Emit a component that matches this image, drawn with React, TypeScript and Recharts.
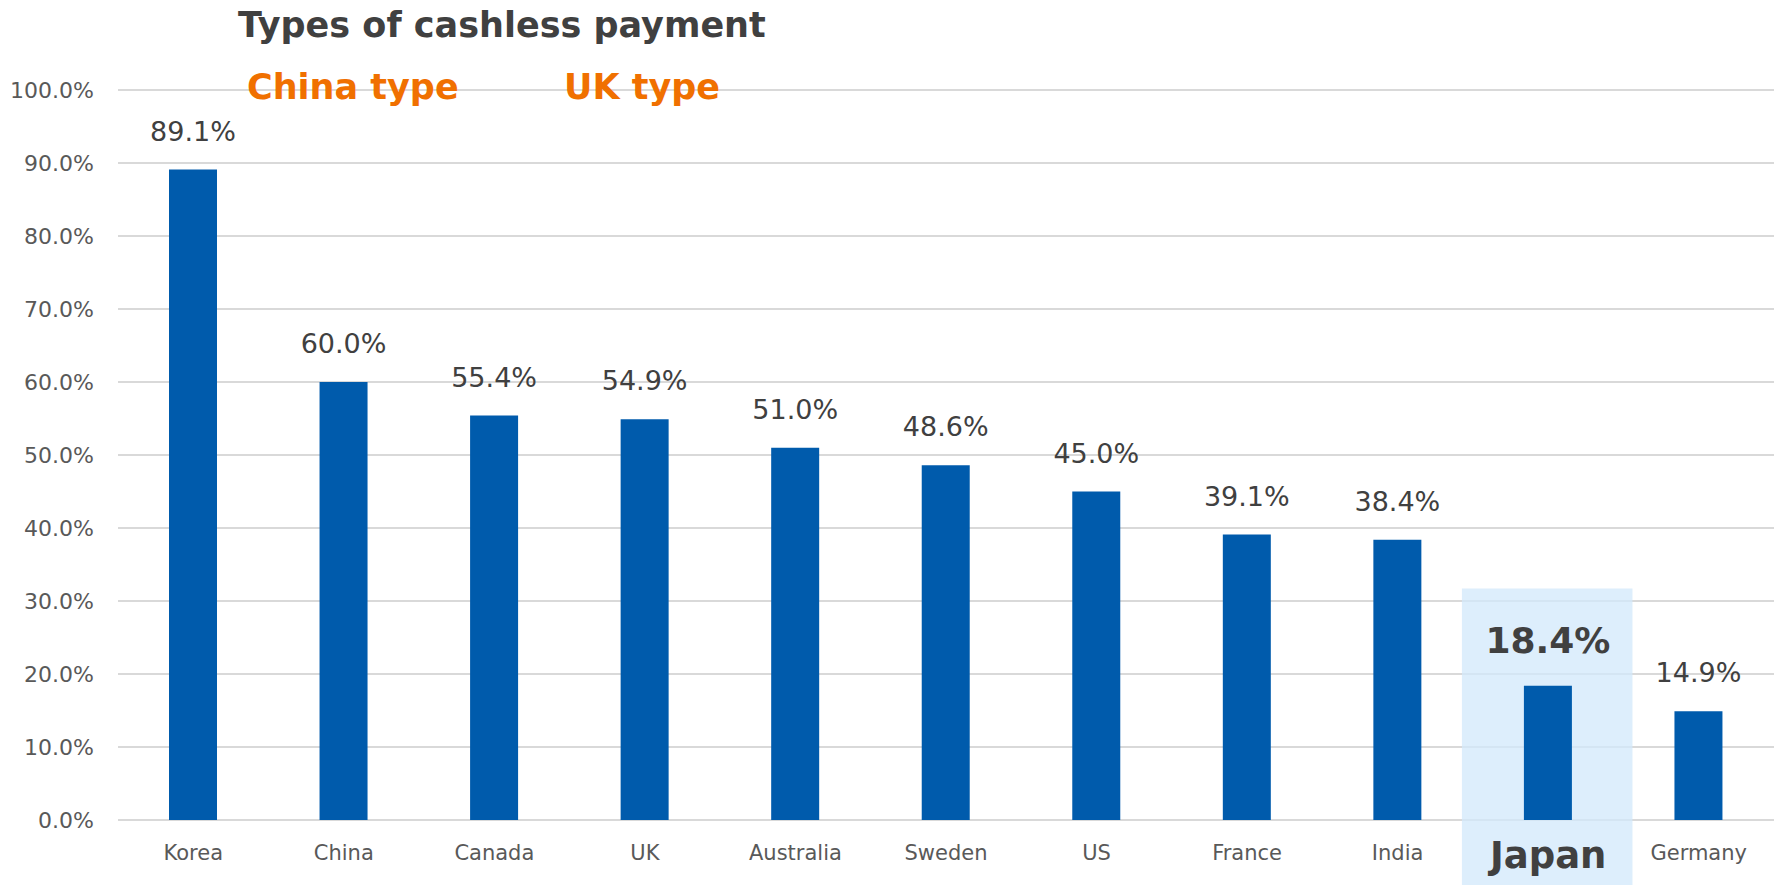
import React from "react";
import { BarChart, Bar, XAxis, YAxis, CartesianGrid, ReferenceArea, LabelList, Rectangle } from "recharts";

const countries = ["Korea", "China", "Canada", "UK", "Australia", "Sweden", "US", "France", "India", "Japan", "Germany"];
const shares = [89.1, 60.0, 55.4, 54.9, 51.0, 48.6, 45.0, 39.1, 38.4, 18.4, 14.9];
const yTicks = [0, 10, 20, 30, 40, 50, 60, 70, 80, 90, 100];
const highlighted = "Japan";
const titleText = "Types of cashless payment";
const typeLabels = ["China type", "UK type"];

const data = countries.map((c, i) => ({ country: c, share: shares[i] }));

const FONT = "'DejaVu Sans', Verdana, sans-serif";

const XTick = (props: any) => {
  const { x, y, payload } = props;
  const isHi = payload.value === highlighted;
  return (
    <text
      x={x}
      y={isHi ? y + 46 : y + 38}
      textAnchor="middle"
      fill={isHi ? "#404040" : "#595959"}
      fontSize={isHi ? 37 : 21}
      fontWeight={isHi ? 700 : 400}
      fontFamily={FONT}
    >
      {payload.value}
    </text>
  );
};

const ValueLabel = (props: any) => {
  const { x, y, width, value, index } = props;
  const isHi = countries[index] === highlighted;
  return (
    <text
      x={x + width / 2}
      y={isHi ? y - 33 : y - 29}
      textAnchor="middle"
      fill="#404040"
      fontSize={isHi ? 36 : 27}
      fontWeight={isHi ? 700 : 400}
      fontFamily={FONT}
    >
      {Number(value).toFixed(1)}%
    </text>
  );
};

const HighlightShape = (props: any) => {
  const { x, y, width, height } = props;
  return <Rectangle x={x - 11} y={y} width={width + 20} height={height} fill="#D2E8FB" fillOpacity={0.75} stroke="none" />;
};

export default function App() {
  return (
    <div style={{ position: "absolute", left: 0, top: 0, width: 1780, height: 885, background: "#fff", fontFamily: FONT }}>
      <BarChart width={1780} height={885} data={data} margin={{ top: 90, right: 6, left: 0, bottom: 0 }}>
        <CartesianGrid vertical={false} stroke="#d9d9d9" strokeWidth={2} />
        <ReferenceArea
          x1={highlighted}
          x2={highlighted}
          y1={-9}
          y2={31.7}
          ifOverflow="visible"
          shape={HighlightShape}
        />
        <XAxis
          dataKey="country"
          height={65}
          axisLine={false}
          tickLine={false}
          tickSize={0}
          tick={XTick}
          interval={0}
        />
        <YAxis
          width={118}
          domain={[0, 100]}
          ticks={yTicks}
          axisLine={false}
          tickLine={false}
          tickSize={0}
          tickMargin={24}
          tickFormatter={(v: number) => `${v.toFixed(1)}%`}
          tick={{ fill: "#595959", fontSize: 22, fontFamily: FONT }}
        />
        <Bar dataKey="share" fill="#005BAC" barSize={48} isAnimationActive={false}>
          <LabelList dataKey="share" content={ValueLabel} />
        </Bar>
      </BarChart>
      <div style={{ position: "absolute", left: 238, top: 3, fontSize: 35, fontWeight: 700, color: "#404040", whiteSpace: "nowrap", lineHeight: "44px" }}>
        {titleText}
      </div>
      <div style={{ position: "absolute", left: 247, top: 65, fontSize: 35, fontWeight: 700, color: "#F07000", whiteSpace: "nowrap", lineHeight: "44px" }}>
        {typeLabels[0]}
      </div>
      <div style={{ position: "absolute", left: 564, top: 65, fontSize: 35, fontWeight: 700, color: "#F07000", whiteSpace: "nowrap", lineHeight: "44px" }}>
        {typeLabels[1]}
      </div>
    </div>
  );
}
